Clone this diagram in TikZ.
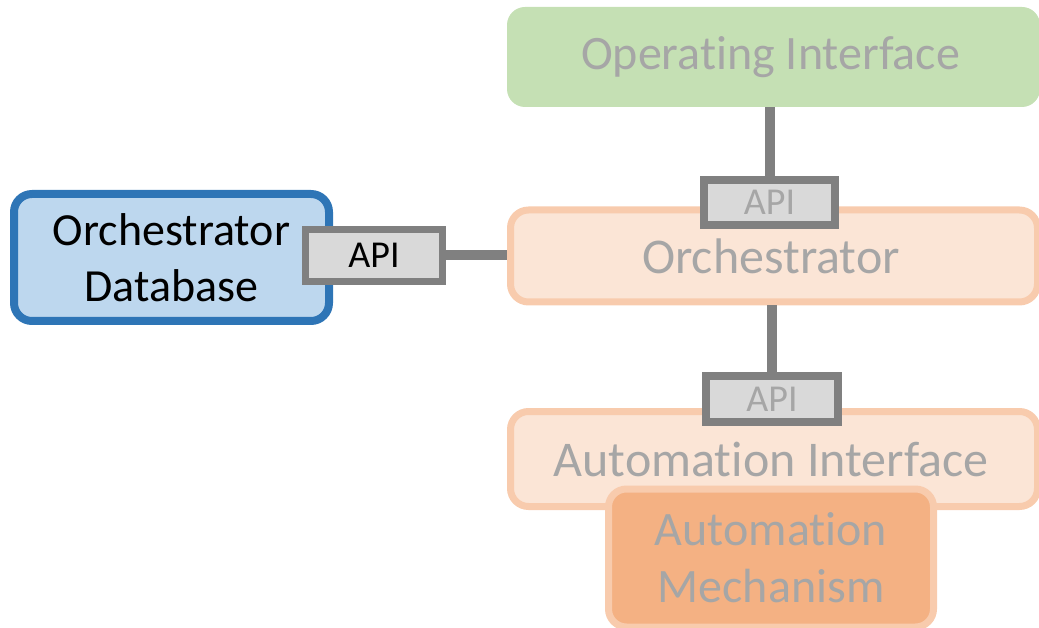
\documentclass[tikz,border=0pt]{standalone}
\usepackage{fontspec}
\setmainfont{Carlito}[Ligatures={NoCommon}]
\definecolor{dbblue}{HTML}{2E75B6}
\definecolor{dbfill}{HTML}{BDD7EE}
\definecolor{orline}{HTML}{F8CBAD}
\definecolor{orfill}{HTML}{FBE5D6}
\definecolor{mechfill}{HTML}{F4B183}
\definecolor{opfill}{HTML}{C5E0B4}
\definecolor{apifill}{HTML}{D9D9D9}
\definecolor{conn}{HTML}{808080}
\definecolor{fadetext}{HTML}{A6A6A6}
\tikzset{
  box/.style={rounded corners=18pt, inner sep=0pt, outer sep=0pt, align=center},
  dbbox/.style={box, draw=dbblue, fill=dbfill, line width=8pt, text=black, font=\fontsize{46}{56}\selectfont},
  orbox/.style={box, draw=orline, fill=orfill, line width=7pt, text=fadetext, font=\fontsize{50}{57}\selectfont},
  opbox/.style={box, fill=opfill, text=fadetext, font=\fontsize{48}{57}\selectfont},
  mechbox/.style={box, draw=orline, fill=mechfill, line width=7pt, text=fadetext, font=\fontsize{48}{57}\selectfont},
  apibox/.style={draw=conn, fill=apifill, line width=8pt, inner sep=0pt, outer sep=0pt, font=\fontsize{38}{44}\selectfont},
  link/.style={draw=conn, line width=10pt},
}
\begin{document}
\begin{tikzpicture}[x=1pt, y=-1pt]
\useasboundingbox (0,0) rectangle (1039,628);
% boxes
\node[opbox, minimum width=533pt, minimum height=100pt] (opint) at (773.5,57) {\hspace*{-6pt}Operating Interface};
\node[orbox, minimum width=527pt, minimum height=92pt] (orch) at (774,256) {\hspace*{-6pt}Orchestrator};
\node[orbox, minimum width=527pt, minimum height=95pt] (autoint) at (774,459) {\hspace*{-6pt}Automation Interface};
\node[mechbox, minimum width=325pt, minimum height=138pt] (mech) at (771,558) {Automation\\Mechanism};
\node[dbbox, minimum width=315pt, minimum height=127pt] (db) at (171.5,257.5) {Orchestrator\\Database};
% API boxes
\node[apibox, line width=7pt, text=black, minimum width=137pt, minimum height=52pt] (apidb) at (374,255.5) {API};
\node[apibox, text=fadetext, minimum width=131pt, minimum height=45pt] (apiop) at (769.5,202.5) {\raisebox{-3pt}{API}};
\node[apibox, text=fadetext, minimum width=132pt, minimum height=46pt] (apiauto) at (772,399) {\raisebox{-2pt}{API}};
% connectors
\draw[link] ([yshift=3.5pt]apiop.north) -- (apiop.north |- opint.south);
\draw[link] ([yshift=4pt]apiauto.north) -- ([yshift=-3.5pt]apiauto.north |- orch.south);
\draw[link] ([xshift=3.5pt]apidb.east) -- ([xshift=-3.5pt]apidb.east -| orch.west);
\end{tikzpicture}
\end{document}
